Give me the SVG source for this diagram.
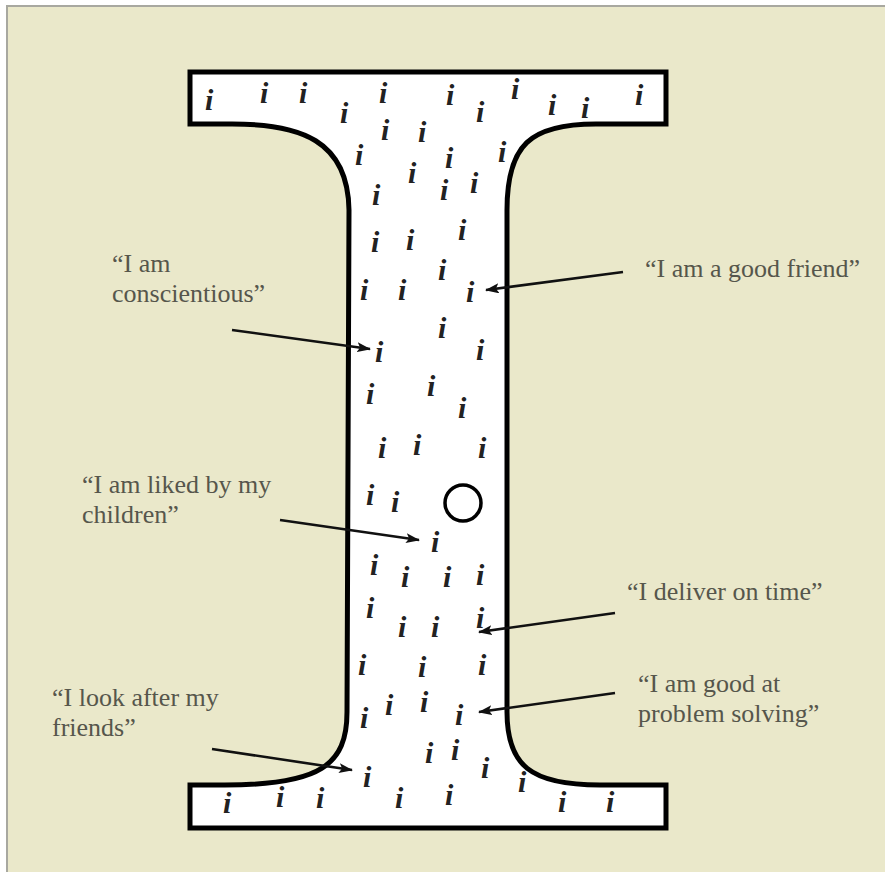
<svg xmlns="http://www.w3.org/2000/svg" width="885" height="872" viewBox="0 0 885 872">
<defs>
<style>
.lbl{font-size:26px;fill:#56564c}
.ii{font-style:italic;font-weight:bold;font-size:30px;fill:#222}
.con{stroke:#111;stroke-width:2.6;fill:none;marker-end:url(#ah)}
</style>
<marker id="ah" markerUnits="userSpaceOnUse" markerWidth="14" markerHeight="10" refX="13" refY="5" orient="auto">
<path d="M0,0 L14,5 L0,10 L3,5 Z" fill="#111"/>
</marker>
</defs>
<rect x="0" y="0" width="885" height="872" fill="#ffffff"/>
<rect id="panel" x="7" y="6" width="878" height="866" fill="#EAE8CA"/>
<path d="M7,872 L7,6 L885,6" fill="none" stroke="#a8a8a0" stroke-width="2"/>
<g id="ibeam">
<path d="M190,72 L666,72 L666,124 L596,124 C530,124 507,145 507,210 L507,712 C507,765 530,785 600,785 L666,785 L666,828 L190,828 L190,785 L225,785 C320,785 347,765 347,712 L349,210 C348,140 300,124 232,124 L190,124 Z" fill="#ffffff" stroke="#000" stroke-width="5" stroke-linejoin="miter"/>
</g>
<g id="hole">
<circle cx="463" cy="503" r="18" fill="none" stroke="#000" stroke-width="3.5"/>
</g>
<g id="letters" class="ii" font-family="'Liberation Serif', 'DejaVu Serif', serif">
<text x="205" y="110">i</text>
<text x="260" y="103">i</text>
<text x="299" y="103">i</text>
<text x="340" y="123">i</text>
<text x="379" y="103">i</text>
<text x="446" y="105">i</text>
<text x="511" y="99">i</text>
<text x="548" y="115">i</text>
<text x="476" y="122">i</text>
<text x="581" y="118">i</text>
<text x="635" y="105">i</text>
<text x="381" y="140">i</text>
<text x="418" y="142">i</text>
<text x="355" y="165">i</text>
<text x="445" y="168">i</text>
<text x="498" y="162">i</text>
<text x="408" y="183">i</text>
<text x="470" y="193">i</text>
<text x="372" y="205">i</text>
<text x="440" y="200">i</text>
<text x="458" y="240">i</text>
<text x="371" y="252">i</text>
<text x="406" y="250">i</text>
<text x="438" y="280">i</text>
<text x="360" y="300">i</text>
<text x="398" y="300">i</text>
<text x="466" y="302">i</text>
<text x="438" y="338">i</text>
<text x="375" y="362">i</text>
<text x="476" y="360">i</text>
<text x="366" y="404">i</text>
<text x="427" y="396">i</text>
<text x="458" y="418">i</text>
<text x="378" y="458">i</text>
<text x="413" y="455">i</text>
<text x="478" y="458">i</text>
<text x="366" y="505">i</text>
<text x="391" y="512">i</text>
<text x="431" y="552">i</text>
<text x="370" y="575">i</text>
<text x="401" y="587">i</text>
<text x="443" y="587">i</text>
<text x="476" y="585">i</text>
<text x="366" y="618">i</text>
<text x="398" y="637">i</text>
<text x="431" y="637">i</text>
<text x="476" y="628">i</text>
<text x="358" y="675">i</text>
<text x="418" y="677">i</text>
<text x="478" y="675">i</text>
<text x="360" y="728">i</text>
<text x="385" y="715">i</text>
<text x="420" y="712">i</text>
<text x="455" y="725">i</text>
<text x="425" y="763">i</text>
<text x="451" y="760">i</text>
<text x="481" y="778">i</text>
<text x="363" y="787">i</text>
<text x="518" y="792">i</text>
<text x="223" y="813">i</text>
<text x="276" y="807">i</text>
<text x="316" y="808">i</text>
<text x="395" y="808">i</text>
<text x="445" y="805">i</text>
<text x="558" y="812">i</text>
<text x="606" y="812">i</text>
</g>
<g id="connectors">
<line class="con" x1="232" y1="330" x2="370" y2="349"/>
<line class="con" x1="623" y1="272" x2="486" y2="290"/>
<line class="con" x1="280" y1="520" x2="419" y2="540"/>
<line class="con" x1="615" y1="613" x2="479" y2="632"/>
<line class="con" x1="615" y1="693" x2="479" y2="712"/>
<line class="con" x1="212" y1="749" x2="352" y2="770"/>
</g>
<g id="label-conscientious" class="lbl" font-family="'Liberation Serif', 'DejaVu Serif', serif">
<text x="112" y="272">“I am</text>
<text x="112" y="302">conscientious”</text>
</g>
<g id="label-friend" class="lbl" font-family="'Liberation Serif', 'DejaVu Serif', serif">
<text x="645" y="277">“I am a good friend”</text>
</g>
<g id="label-children" class="lbl" font-family="'Liberation Serif', 'DejaVu Serif', serif">
<text x="82" y="493">“I am liked by my</text>
<text x="82" y="523">children”</text>
</g>
<g id="label-deliver" class="lbl" font-family="'Liberation Serif', 'DejaVu Serif', serif">
<text x="627" y="600">“I deliver on time”</text>
</g>
<g id="label-problem" class="lbl" font-family="'Liberation Serif', 'DejaVu Serif', serif">
<text x="638" y="692">“I am good at</text>
<text x="638" y="722">problem solving”</text>
</g>
<g id="label-look" class="lbl" font-family="'Liberation Serif', 'DejaVu Serif', serif">
<text x="52" y="706">“I look after my</text>
<text x="52" y="736">friends”</text>
</g>
</svg>
